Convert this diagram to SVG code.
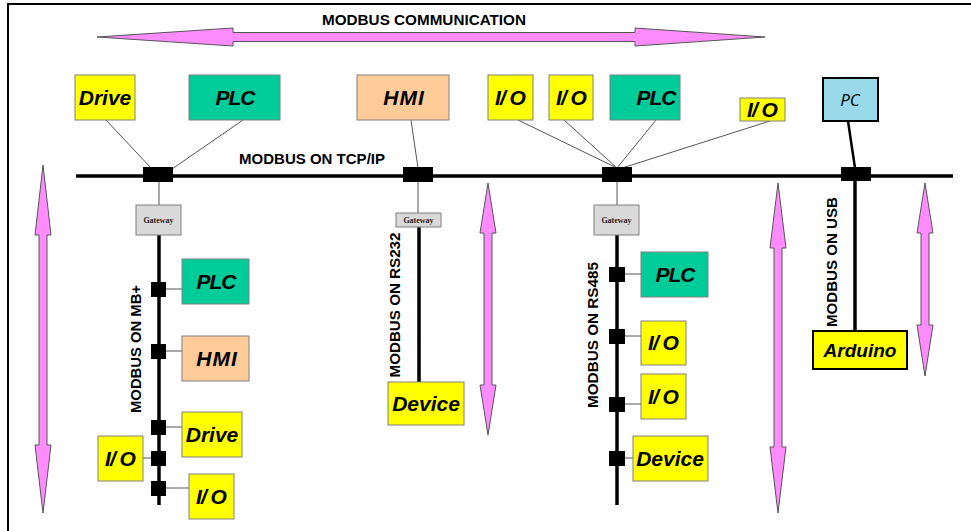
<svg xmlns="http://www.w3.org/2000/svg" width="971" height="531" viewBox="0 0 971 531">
<style>
.bg{fill:#ffffff}
.frame{stroke:#000;stroke-width:2;fill:none}
.box{stroke:#808080;stroke-width:1}
.yel{fill:#FFFF00}
.grn{fill:#00CC99}
.pch{fill:#FFCC99}
.gw{fill:#D9D9D9;stroke:#808080;stroke-width:1}
.pc{fill:#99D9EA;stroke:#000;stroke-width:2}
.ard{fill:#FFFF00;stroke:#000;stroke-width:2}
.lbl{font-family:"Liberation Sans",Arial,sans-serif;font-weight:bold;font-style:italic;font-size:21px;fill:#000;text-anchor:middle}
.gwt{font-family:"Liberation Serif","Times New Roman",serif;font-weight:bold;font-size:8px;fill:#222;text-anchor:middle}
.bus{font-family:"Liberation Sans",Arial,sans-serif;font-weight:bold;font-size:14px;fill:#000;text-anchor:middle}
.thin{stroke:#555;stroke-width:1;fill:none}
.thick{stroke:#000;stroke-width:3.5;fill:none}
.blk{fill:#000}
.pink{fill:#FF8CFF;stroke:#555;stroke-width:1}
</style>
<rect class="bg" x="0" y="0" width="971" height="531"/>
<path class="frame" d="M8,531 V4 H971"/>

<g id="arrows">
<polygon class="pink" points="97,37 233,28 233,32.5 635,32.5 635,28 765,37 635,46 635,41.5 233,41.5 233,46"/>
<polygon class="pink" points="43,165 51,235 47,235 47,445 51,445 43,513 35,445 39,445 39,235 35,235"/>
<polygon class="pink" points="488,183 496,233 492,233 492,385 496,385 488,435 480,385 484,385 484,233 480,233"/>
<polygon class="pink" points="778,183 786,248 782,248 782,447 786,447 778,513 770,447 774,447 774,248 770,248"/>
<polygon class="pink" points="925,183 933,233 929,233 929,325 933,325 925,376 917,325 921,325 921,233 917,233"/>
</g>

<text class="bus" x="424" y="25" textLength="204" lengthAdjust="spacingAndGlyphs">MODBUS COMMUNICATION</text>
<text class="bus" x="312" y="164" textLength="146" lengthAdjust="spacingAndGlyphs">MODBUS ON TCP/IP</text>
<text class="bus" transform="translate(136,349) rotate(-90)" y="5" textLength="128" lengthAdjust="spacingAndGlyphs">MODBUS ON MB+</text>
<text class="bus" transform="translate(395,305) rotate(-90)" y="5" textLength="145" lengthAdjust="spacingAndGlyphs">MODBUS ON RS232</text>
<text class="bus" transform="translate(593,335) rotate(-90)" y="5" textLength="146" lengthAdjust="spacingAndGlyphs">MODBUS ON RS485</text>
<text class="bus" transform="translate(832,262) rotate(-90)" y="5" textLength="130" lengthAdjust="spacingAndGlyphs">MODBUS ON USB</text>

<g id="connectors">
<line x1="76" y1="176" x2="953" y2="176" stroke="#000" stroke-width="3.5"/>
<line class="thin" x1="106" y1="120" x2="151" y2="168"/>
<line class="thin" x1="243" y1="120" x2="172" y2="169"/>
<line class="thin" x1="411" y1="120" x2="418" y2="168"/>
<line class="thin" x1="518" y1="120" x2="617" y2="168"/>
<line class="thin" x1="564" y1="120" x2="617" y2="168"/>
<line class="thin" x1="656" y1="120" x2="617" y2="168"/>
<line class="thin" x1="770" y1="121" x2="619" y2="169"/>
<line x1="848" y1="121" x2="855" y2="168" stroke="#000" stroke-width="2.5"/>
<line class="thin" x1="159" y1="182" x2="159" y2="205"/>
<line class="thin" x1="418" y1="182" x2="418" y2="213"/>
<line class="thin" x1="617" y1="182" x2="617" y2="205"/>
<line class="thick" x1="159" y1="235" x2="159" y2="505"/>
<line class="thick" x1="419" y1="227" x2="419" y2="382"/>
<line class="thick" x1="617" y1="235" x2="617" y2="505"/>
<line class="thick" x1="855" y1="181" x2="855" y2="331"/>
<line class="thin" x1="166" y1="289" x2="182" y2="289"/>
<line class="thin" x1="166" y1="351" x2="182" y2="351"/>
<line class="thin" x1="166" y1="427" x2="182" y2="427"/>
<line class="thin" x1="143" y1="458" x2="151" y2="458"/>
<line class="thin" x1="166" y1="488" x2="189" y2="488"/>
<line class="thin" x1="625" y1="274" x2="641" y2="274"/>
<line class="thin" x1="625" y1="336" x2="641" y2="336"/>
<line class="thin" x1="625" y1="404" x2="641" y2="404"/>
<line class="thin" x1="625" y1="458" x2="633" y2="458"/>
<rect class="blk" x="143" y="167" width="30" height="15"/>
<rect class="blk" x="403" y="167" width="30" height="15"/>
<rect class="blk" x="602" y="167" width="30" height="15"/>
<rect class="blk" x="841" y="167" width="30" height="14"/>
<rect class="blk" x="151" y="282" width="15" height="15"/>
<rect class="blk" x="151" y="344" width="15" height="15"/>
<rect class="blk" x="151" y="420" width="15" height="15"/>
<rect class="blk" x="151" y="451" width="15" height="15"/>
<rect class="blk" x="151" y="481" width="15" height="15"/>
<rect class="blk" x="609" y="267" width="16" height="15"/>
<rect class="blk" x="609" y="329" width="16" height="15"/>
<rect class="blk" x="609" y="397" width="16" height="15"/>
<rect class="blk" x="609" y="451" width="16" height="15"/>
</g>

<g id="drive-top"><rect class="box yel" x="75" y="75" width="60" height="45"/><text class="lbl" x="105" y="105">Drive</text></g>
<g id="plc-top1"><rect class="box grn" x="189" y="75" width="91" height="45"/><text class="lbl" x="235" y="105" letter-spacing="-1">PLC</text></g>
<g id="hmi-top"><rect class="box pch" x="357" y="75" width="92" height="45"/><text class="lbl" x="404" y="105" letter-spacing="1">HMI</text></g>
<g id="io-top1"><rect class="box yel" x="488" y="75" width="45" height="45"/><text class="lbl" x="510" y="105" letter-spacing="-1">I/ O</text></g>
<g id="io-top2"><rect class="box yel" x="549" y="75" width="44" height="45"/><text class="lbl" x="571" y="105" letter-spacing="-1">I/ O</text></g>
<g id="plc-top2"><rect class="box grn" x="610" y="75" width="70" height="45"/><text class="lbl" x="656" y="105" letter-spacing="-1">PLC</text></g>
<g id="io-top3"><rect class="box yel" x="740" y="98" width="45" height="23"/><text class="lbl" x="762" y="117" letter-spacing="-1">I/ O</text></g>
<g id="pc"><rect class="pc" x="823" y="78" width="55" height="43"/><text x="850" y="106" font-family="'Open Sans','Liberation Sans',sans-serif" font-style="italic" font-size="17" text-anchor="middle" fill="#000">PC</text></g>

<g id="gateway-mb"><rect class="gw" x="136" y="205" width="45" height="30"/><text class="gwt" x="158.5" y="223">Gateway</text></g>
<g id="gateway-rs232"><rect class="gw" x="396" y="213" width="45" height="14"/><text class="gwt" x="418.5" y="223">Gateway</text></g>
<g id="gateway-rs485"><rect class="gw" x="594" y="205" width="45" height="30"/><text class="gwt" x="616.5" y="223">Gateway</text></g>

<g id="plc-mb"><rect class="box grn" x="182" y="259" width="67" height="45"/><text class="lbl" x="216" y="289" letter-spacing="-1">PLC</text></g>
<g id="hmi-mb"><rect class="box pch" x="182" y="336" width="67" height="45"/><text class="lbl" x="217" y="366" letter-spacing="1">HMI</text></g>
<g id="drive-mb"><rect class="box yel" x="182" y="412" width="60" height="45"/><text class="lbl" x="212" y="442">Drive</text></g>
<g id="io-mb1"><rect class="box yel" x="98" y="436" width="45" height="45"/><text class="lbl" x="120" y="466" letter-spacing="-1">I/ O</text></g>
<g id="io-mb2"><rect class="box yel" x="189" y="474" width="45" height="45"/><text class="lbl" x="211" y="504" letter-spacing="-1">I/ O</text></g>

<g id="device-rs232"><rect class="box yel" x="388" y="382" width="76" height="43"/><text class="lbl" x="426" y="411">Device</text></g>

<g id="plc-rs485"><rect class="box grn" x="641" y="252" width="67" height="45"/><text class="lbl" x="675" y="282" letter-spacing="-1">PLC</text></g>
<g id="io-rs485a"><rect class="box yel" x="641" y="321" width="45" height="44"/><text class="lbl" x="663" y="350" letter-spacing="-1">I/ O</text></g>
<g id="io-rs485b"><rect class="box yel" x="641" y="374" width="45" height="45"/><text class="lbl" x="663" y="404" letter-spacing="-1">I/ O</text></g>
<g id="device-rs485"><rect class="box yel" x="633" y="436" width="75" height="45"/><text class="lbl" x="670" y="466">Device</text></g>

<g id="arduino"><rect class="ard" x="813" y="331" width="94" height="38"/><text x="860" y="357" font-family="'Liberation Sans',Arial,sans-serif" font-weight="bold" font-style="italic" font-size="19" text-anchor="middle" fill="#000">Arduino</text></g>
</svg>
